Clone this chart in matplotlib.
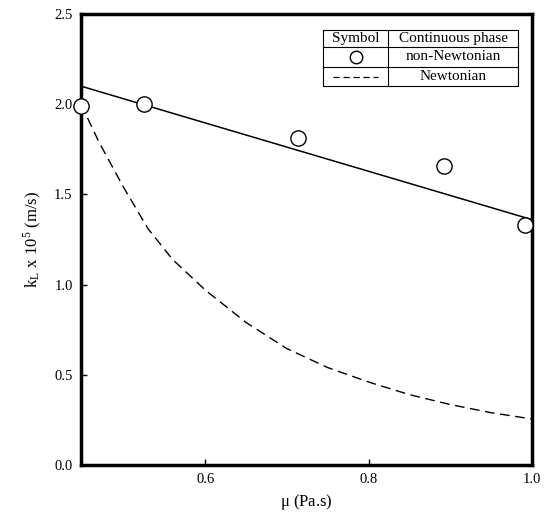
import matplotlib
matplotlib.use("Agg")
import matplotlib.pyplot as plt
from matplotlib.lines import Line2D

plt.rcParams['font.family'] = ['Liberation Serif', 'DejaVu Serif']
plt.rcParams['mathtext.fontset'] = 'stix'

# data
mu_pts = [0.448, 0.525, 0.714, 0.892, 0.992]
kl_pts = [1.99, 2.00, 1.81, 1.66, 1.33]

fit_x = [0.448, 1.0]
fit_y = [2.10, 1.36]

newt_x = [0.448, 0.47, 0.50, 0.53, 0.56, 0.60, 0.65, 0.70, 0.75, 0.80, 0.85, 0.90, 0.95, 1.0]
newt_y = [2.00, 1.79, 1.54, 1.31, 1.14, 0.97, 0.79, 0.645, 0.54, 0.46, 0.39, 0.335, 0.29, 0.255]

xticks = [0.6, 0.8, 1.0]
yticks = [0.0, 0.5, 1.0, 1.5, 2.0, 2.5]

fig = plt.figure(figsize=(5.48, 5.17), dpi=100)
ax = fig.add_axes([81/548, 1 - 465/517, 451/548, 451/517])

ax.plot(fit_x, fit_y, color='black', lw=1.1, clip_on=False, zorder=2)
ax.plot(newt_x, newt_y, color='black', lw=1.0, ls=(0, (7, 4)), zorder=2,
        dash_joinstyle='round', dash_capstyle='butt')
ax.plot(mu_pts, kl_pts, ls='none', marker='o', ms=11, mfc='white', mec='black',
        mew=1.0, clip_on=False, zorder=3)

ax.set_xlim(0.448, 1.0)
ax.set_ylim(0.0, 2.5)
ax.set_xticks(xticks)
ax.set_xticklabels(['%.1f' % v for v in xticks])
ax.set_yticks(yticks)
ax.set_yticklabels(['%.1f' % v for v in yticks])
ax.tick_params(direction='in', length=4, width=1, labelsize=10.5, pad=6)

for s in ax.spines.values():
    s.set_linewidth(2.5)

ax.set_xlabel(r'$\mathregular{\mu}$ (Pa.s)', fontsize=12, labelpad=4)
ax.set_ylabel(r'k$_\mathregular{L}$ x 10$^\mathregular{5}$ (m/s)', fontsize=12, labelpad=8)

# legend table (axes coords)
L, R, T, B = 0.537, 0.969, 0.965, 0.840
mid = 0.681
h1 = (465 - 47) / 451
h2 = (465 - 67) / 451
kw = dict(transform=ax.transAxes, color='black', lw=0.8)
ax.add_line(Line2D([L, R, R, L, L], [T, T, B, B, T], **kw))
ax.add_line(Line2D([L, R], [h1, h1], **kw))
ax.add_line(Line2D([L, R], [h2, h2], **kw))
ax.add_line(Line2D([mid, mid], [T, B], **kw))
cx1 = (L + mid) / 2
cx2 = (mid + R) / 2
ax.text(cx1, (T + h1) / 2, 'Symbol', transform=ax.transAxes, ha='center', va='center', fontsize=11)
ax.text(cx2, (T + h1) / 2, 'Continuous phase', transform=ax.transAxes, ha='center', va='center', fontsize=11)
ax.plot([cx1], [(h1 + h2) / 2], transform=ax.transAxes, marker='o', ms=9, mfc='white', mec='black', mew=1.0)
ax.text(cx2, (h1 + h2) / 2, 'non-Newtonian', transform=ax.transAxes, ha='center', va='center', fontsize=11)
ax.add_line(Line2D([cx1 - 0.05, cx1 + 0.05], [(h2 + B) / 2] * 2, transform=ax.transAxes,
                   color='black', lw=0.9, ls=(0, (5, 3))))
ax.text(cx2, (h2 + B) / 2, 'Newtonian', transform=ax.transAxes, ha='center', va='center', fontsize=11)

fig.savefig('out.png', dpi=100)
